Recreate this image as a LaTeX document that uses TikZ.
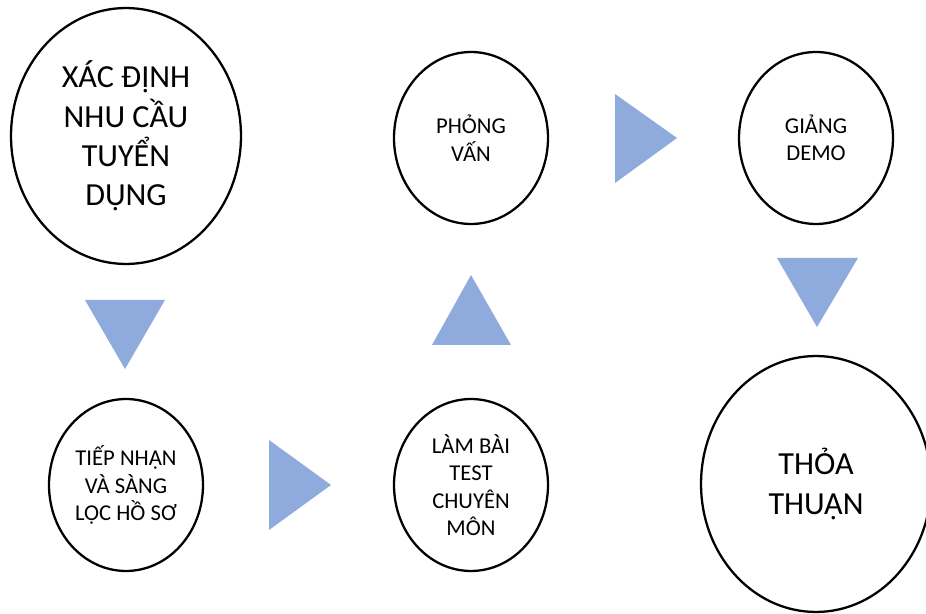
\documentclass[tikz,border=0pt]{standalone}
\usepackage{fontspec}
\setmainfont{Carlito}
\usetikzlibrary{shapes.geometric}
\definecolor{tricol}{RGB}{143,170,220}

\begin{document}
\begin{tikzpicture}[x=0.02cm, y=-0.02cm,
	stage/.style={ellipse, draw, line width=1.3pt, inner sep=0pt, align=center, minimum width=3.08cm, minimum height=3.44cm, font=\fontsize{12.9}{15.6}\selectfont},
	bigstage/.style={stage, minimum width=4.6cm, minimum height=5.12cm, font=\fontsize{18.3}{22.3}\selectfont},
	tri/.style={fill=tricol}]
	\useasboundingbox (0,0) rectangle (926,614);
	\node[bigstage] (xacdinh) at (126,136) {XÁC ĐỊNH\\NHU CẦU\\TUYỂN\\DỤNG};
	\node[stage] (tiepnhan) at (126,485) {TIẾP NHẬN\\VÀ SÀNG\\LỌC HỒ SƠ};
	\node[stage] (lambai) at (471,485) {LÀM BÀI\\TEST\\CHUYÊN\\MÔN};
	\node[stage] (phongvan) at (471,138) {PHỎNG\\VẤN};
	\node[stage] (giang) at (816,138) {GIẢNG\\DEMO};
	\node[bigstage] (thoathuan) at (816,484) {THỎA\\THUẬN};
	% triangles between the stages
	\fill[tri] (85,300) -- (165,300) -- (125,369) -- cycle;
	\fill[tri] (269,440) -- (331,485) -- (269,530) -- cycle;
	\fill[tri] (432,345) -- (511,345) -- (471,275) -- cycle;
	\fill[tri] (615,94) -- (677,138) -- (615,183) -- cycle;
	\fill[tri] (777,258) -- (858,258) -- (817,327) -- cycle;
\end{tikzpicture}
\end{document}
